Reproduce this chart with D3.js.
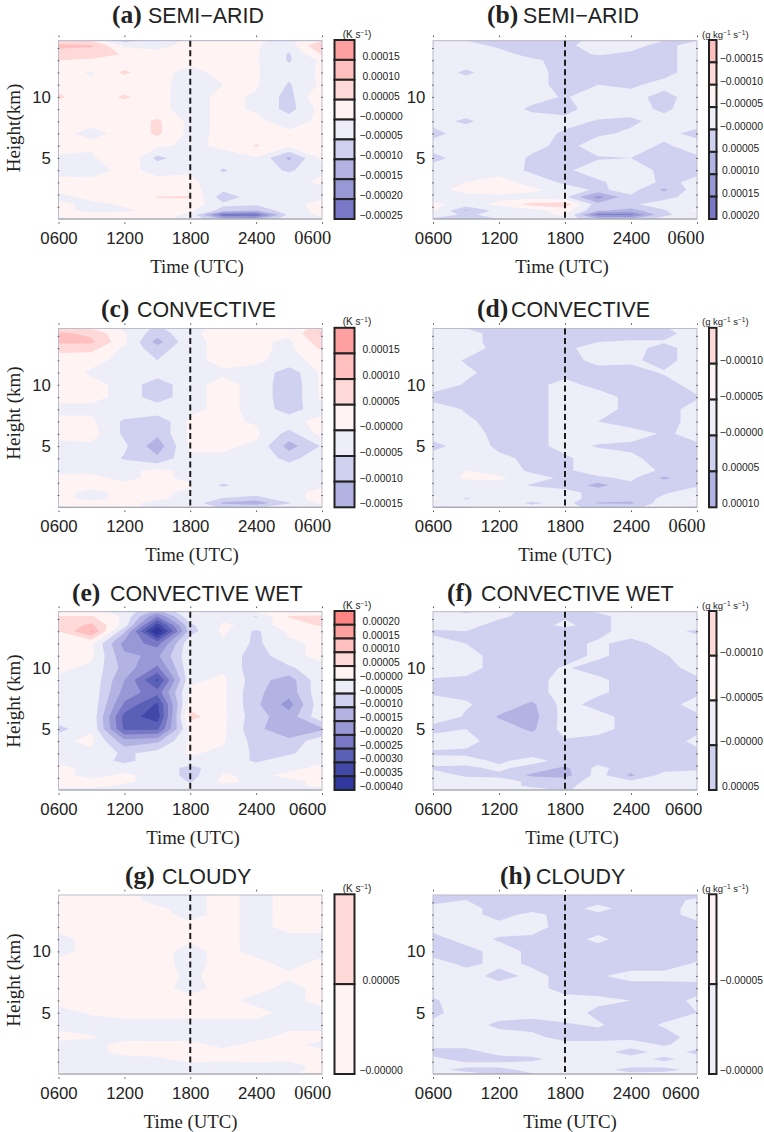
<!DOCTYPE html>
<html>
<head>
<meta charset="utf-8">
<title>Heating and moistening tendencies</title>
<script src="https://cdn.jsdelivr.net/npm/d3@7"></script>
<style>
  html, body { margin: 0; padding: 0; background: #fff; }
  svg { display: block; }
  .serif { font-family: "Liberation Serif", serif; fill: #222; }
  .sans { font-family: "Liberation Sans", sans-serif; fill: #222; }
</style>
</head>
<body>
<div id="chart"></div>
<script>
/* ── Data ─────────────────────────────────────────────────────────── */
// all tendencies in 1e-5 (K/s or g/kg/s), one inner list per time step, top level first
const heightLevels = [14.6, 14.2, 13.5, 13, 12, 11, 10, 9, 8, 7, 6, 5, 4, 3, 2.4, 1.8, 1.2, 0.7, 0.35, 0];
const timeHours = [0, 3, 6, 9, 12, 15, 18, 21, 24];
const timeTicks = [0, 6, 12, 18];
const timeTickLabels = ["0600", "1200", "1800", "2400"];
const heightLabels = [5, 10];
const heightTicks = [1, 2, 3, 4, 5, 6, 7, 8, 9, 10, 11, 12, 13, 14];

const semiAridHeat = [
  [8, 11, 8, 5, 2, 3, 6, 2, 1, 1, 5.5, -2, -1, 1, 1, -1, 1, 1, 1, -1],
  [5, 10.5, 8, 4, -0.5, 1, 1, 1, 1, -1, 1, -1, -1.5, 1, 1, 1, -1, -1, 1, 1],
  [-7, -1, 4.5, 1, 6, 1, 6, 1, 1, 1, 1, 5.2, 1, 1, 1, 1, 0.5, -0.5, 1, 1],
  [-1, -1, 1, 1, 1, 1, 1, 1, 6, 6, 1, -6.5, -1, 1, 1, 5.3, 3, 1, 1, 1],
  [0.5, 1, 1, 1, -1, -1.5, -1.5, -1.5, -1.5, -1.5, -1, -1.5, -0.5, 1, 2, 5.5, 3, 1, -0.5, -1],
  [1, 5, 1, 1, 1, 0, 1, 1, 1, 1, 1, -2, -5.5, -3, -4, -8, -4, -7, -24, -11],
  [0.5, 0.5, 0.5, 0.5, 0.5, 0.5, -0.5, -0.5, 1, 1, 5.5, -0.5, -1.5, -1, -1, -2, -4, -10, -24, -12],
  [-1, -3, -5.5, -5.5, -3.5, -5.5, -7, -7, -2, 1, 1, -11, -6, -1, -1, -1, -1, -1.5, -3.5, -1],
  [5, 11, 5.5, 1, 1, 1, 5.5, 2, 1, 1, 5, 1, -0.5, 0.5, -0.5, -0.5, 1, 1, 1, -0.5]
];
const semiAridMoist = [
  [2, 2, 2, 2, 2, 2, 2, 2, 3, 7, 2, 7, 2, 2, 2, 2, -1, -1, 2, 6],
  [5, 3, 3, 2, 6, 2, 2, 2, 6, 2, 2, 2, 2, 0, -2, 2, 2, 10.5, 6, 6],
  [7, 6, 3, 2, 2, 2, 2, 2, 2, 2, 2, 1, 2, -2, -2, 1, -1, 3, 3, 5],
  [7, 7, 7, 4, 3, 3, 3, 6, 2, 2, 3, 6, 6, 2, -1, 2, -7, 2, 2, 3],
  [7, 6, 7, 7, 7, 7, 5.5, 7, 3, 6, 7, 6, 6, 6, 2, 4, -8, -2, -1, 2],
  [3, 3, 4.5, 7, 7, 5, 2, 2, 5.5, 6, 2, 5.5, 2, 6, 6, 17, 8, 9, 21, 9],
  [2, 3, 6, 7, 7, 6, 3, 3, 6, 4, 2, 5, 1, 2, 3, 6, 6, 12, 21, 10],
  [5, 7, 7, 7, 7, 3, 7, 6, 3, 3, 6, 7, 7, 6, 11, 7, 2, 5.5, 6, 3],
  [5, 2, 2, 2, 2, 2, 2, 2, 2, 7, 2, 6, 6, 4, 2, 2, 2, -1, 2, 5]
];
const convectiveHeat = [
  [7, 11, 11, 7, 2, 2, 2, 1, -1, 1, 1, -1, -1, -1, 1, 1, 1, 1, 1, -1],
  [5, 9, 11, 7, 1, -0.5, 1, 1, -1, 1, 2, -1, -1, -1, 1, 1, -1, -1, 1, 1],
  [-1, 0.5, 1, -1, -1, -1, -1, -1, -1, -6, -6, -4, -5.5, -1, -1, 1, 1, 1, 1, 1],
  [-6, -8, -12, -8, -5, -2, -8.5, -8.5, -1, -9, -9, -13, -9, 1, 1, 1, 1, 0.5, -1, -1],
  [-1, -1, -1, -1, -1, -1, -1, -1, -1, 1, 1, 1, -1, -1, -1, 0.5, -1, -1, -1, -1],
  [1, 2, 1, 1, 1, -0.5, 1, 1, 1, 1, 1, 1, -1, -1, -1, -6, -1, -5.5, -11, -6],
  [1, 1, 1, 1, 0.5, -1, -1, -1, -1, -0.5, 1, -1, -1, -1, -1, -1, -2, -8, -13, -6],
  [1, 1, -1, -1, -1, -8, -9, -9, -8, -1, -7, -12, -7, -1, -1, -1, -1, -1, -5.5, -1],
  [8, 11, 8, 6, 1, 1, 1, 1, -1, 1, 2, -4.5, -1, -1, -1, -0.5, 1, 1, 1, -1]
];
const convectiveMoist = [
  [2, 2, 2, 2, 2, 2, 2, 7, 2, 2, 2, 7, 2, 2, 2, 2, 1, -1, 2, 6],
  [5, 3, 3, 2, 5.5, 4, 5.5, 7, 5.5, 4, 2, 2, 2, 0, -0.5, 2, 2, 5.5, 3, 5.5],
  [7, 7, 7, 7, 7, 7, 7, 7, 7, 7, 7, 6, 4, 2, -1, 2, 2, 2, 2, 4],
  [7, 7, 7, 7, 7, 7, 7, 7, 7, 7, 7, 7, 6, 6, 3, 5.5, 2, 2, 6, 3],
  [7, 7, 5.5, 6, 7, 7, 3, 3, 3, 3, 3, 3, 6, 6, 6, 6, 4, 3, 3, 4],
  [7, 6, 5, 3, 3.5, 7, 7, 2, 2, 5, 2, 5.5, 2, 2, 6, 12, 6, 7, 10.5, 6],
  [5.5, 7, 4.5, 3, 4, 7, 7, 7, 7, 7, 3, 6, 4, 2, 4, 6, 6, 8, 11, 6],
  [5.5, 7, 4.5, 7, 7, 4.5, 7, 7, 7, 7, 5.5, 6, 7, 6, 11, 6, 5.5, 4, 2, 3],
  [2, 2, 2, 2, 2, 2, 3, 5.5, 3, 3, 4, 5.5, 6, 6, 6, 5.5, 3, -1, 2, 6]
];
const wetHeat = [
  [0.5, 5.5, 7, 5, 1, 1, 1, -1, -1, -1, -1, -7, -1, -1, -1, 1, 1, 1, 1, -1],
  [1, 5.5, 11, 15.5, 1, 1, -1, -1, -1, -1, -1, -0.5, 1, -1, -1, -1, -1, 1, 1, -1],
  [-1, -1, -2, -9, -17, -14, -12, -15, -17, -21, -27, -26, -13, -6, -7, -1, 0.5, 0.5, -0.5, -1],
  [-12, -20, -33, -41, -22, -16, -21, -31, -23, -31, -33, -26, -11, -3, -1, -1, -1, -1, -1, -1],
  [1, -1, -6, -7, -1, -1, -1, -1, 1, 3, 7, 1, 1, 0.5, -1, -7, -7, -5.5, -1, -1],
  [-1, -1, 0.5, 1, -1, -1, -1, 1, 1, 1, 1, 1, 0.5, -1, -1, -1, 0.5, 1, -1, -1],
  [0.5, -5.5, -1, -6, -6, -8, -8, -8, -9, -9, -8, -9, -7, -6, -6, -2, -1, -1, -1, -1],
  [1, 5.5, 1, 1, -1, -1, -6, -12.5, -13, -17, -13, -13, -9, -6, -1.5, -1, 1, -1, -1, -1],
  [1, 6, 6, 1, 1, 1, -1, -1, -1, -1, -1, -11, -1, -1, -1, 1, 1, 1, 1, -1]
];
const wetMoist = [
  [2, 2, 2, 6, 3, 2, 2, 5.5, 6, 2, 2, 7, 2, 6, 2, 6, 2, 2, 2, 2],
  [6, 3, 3, 5, 5, 3, 3, 6, 6, 4.5, 5.5, 5, 3.5, 6, 3, 6, 6, 2, 2, 2],
  [3, 4, 7, 7, 7, 7, 7, 7, 7, 7, 10.5, 7, 7, 5, 6, 4, 6, 3, 3, 3],
  [7, 7, 7, 7, 7, 7, 7, 7, 7, 11, 12, 11, 7, 7, 3, 7, 11, 6, 6, 3],
  [7, 5.5, 4, 7, 7, 7, 4.5, 3, 3, 3, 3, 3, 5.5, 7, 7, 11, 12, 7, 6, 5.5],
  [4.5, 7, 7, 7, 4, 4, 7, 4, 4, 7, 3, 3, 7, 7, 7, 3.5, 3, 3, 3, 3],
  [2, 2, 2, 2, 7, 7, 7, 7, 7, 7, 7, 7, 7, 7, 7, 8, 11, 4, 3, 5.5],
  [2, 2, 2, 3, 3, 5.5, 7, 7, 7, 7, 7, 7, 7, 7, 7, 7, 3, 3, 3, 3],
  [2, 2, 2, 6, 2, 2, 3, 6, 6, 3, 6, 6, 4, 6, 5.5, 6, 3, 3, 3, 3]
];
const cloudyHeat = [
  [1, 1, 1, 1, 1, -1, -1, 1, 1, 1, 1, -1, -1, 1, -1, -1, -1, -1, -1, 1],
  [1, 1, 1, 1, 1, 1, 1, 1, 1, 1, 1, 0.3, -1, 0.2, -1, -1, -1, -1, -1, -1],
  [1, 1, 1, 1, 1, 1, 1, 1, 1, 1, 1, 1, -1, -1, 1, 1, -1, -1, -1, -1],
  [-1, -1, 0.5, 1, 1, 1, 1, 1, 1, 1, 1, 1, -1, -1, 1, 1, -0.5, -1, -1, -1],
  [-1, -1, -1, -1, 1, 0.5, -1, -1, -0.5, -1, 1, 1, -1, -1, 1, 1, 1, -1, -1, -1],
  [1, 1, 1, 1, 1, 1, 1, 1, 1, 1, 1, 1, -1, -1, -1, 1, 0.5, -1, -1, 0.5],
  [-1, -1, -1, -1, -1, -1, -1, 1, 1, 1, -1, 1, -1, -1, 1, 1, 1, -1, -1, -0.5],
  [1, 1, 1, 1, 1, -1, -1, -1, 0.5, -1, -1, -1, -1, 1, 1, 1, 0.5, -1, -1, -0.3],
  [1, 1, 1, 1, 1, -1, -1, 1, 1, 1, 1, -1, -1, 1, -1, 0.5, 1, 1, 1, 1]
];
const cloudyMoist = [
  [7, 7, 3, 3, 3, 7, 7, 3, 3, 3, 5.5, 6, 4, 3, 3, 7, 3.5, 3, 3, 3],
  [7, 5, 3, 3, 3, 3, 7, 6, 3, 3, 3, 3, 3, 3, 3, 7, 7, 3, 7, 3],
  [7, 7, 7, 7, 3, 5.5, 3, 4, 6.5, 3, 3, 3, 6, 3, 3, 3, 7, 3, 7, 5.5],
  [7, 7, 7, 3.5, 3, 6, 6, 5.5, 4, 3, 3, 3, 7, 3.5, 3, 3, 6, 3, 3, 5.5],
  [7, 7, 7, 7, 7, 7, 7, 7, 6, 7, 3, 3, 5.5, 7, 3, 3, 3, 3, 3, 3],
  [7, 7, 3.5, 6, 7, 4, 7, 7, 5.5, 7, 4, 6, 4.5, 7, 3, 3, 3, 3, 3, 3],
  [7, 7, 7, 7, 7, 7, 7, 7, 3.5, 7, 5, 7, 7, 6, 3, 7, 3, 3, 7, 3.5],
  [7, 7, 7, 7, 7, 7, 7, 7, 3.5, 7, 7, 7, 4.5, 7, 5.5, 3, 6, 3, 7, 3],
  [7, 4, 3, 3, 7, 7, 7, 4.5, 3, 7, 4, 5, 4, 3, 3, 6, 3, 3, 3, 3]
];

// colour bar labels, top box first (each label is the lower edge of its box)
const semiAridHeatBar = [15, 10, 5, 0, -5, -10, -15, -20, -25];
const semiAridMoistBar = [-15, -10, -5, 0, 5, 10, 15, 20];
const convectiveHeatBar = [15, 10, 5, 0, -5, -10, -15];
const convectiveMoistBar = [-10, -5, 0, 5, 10];
const wetHeatBar = [20, 15, 10, 5, 0, -5, -10, -15, -20, -25, -30, -35, -40];
const wetMoistBar = [-10, -5, 0, 5];
const cloudyHeatBar = [5, 0];
const cloudyMoistBar = [-5, 0];

/* ── Colours ──────────────────────────────────────────────────────── */
const blues = ["#eeeef9", "#d0d0f0", "#b3b3e3", "#9898d6", "#7878c6", "#5a60b6", "#4248a8", "#30389f"];
const pinks = ["#fff4f3", "#ffd8d8", "#ffbfbf", "#ffa0a0", "#ff8585"];

// band [t, t+5): warm = pink for heating, moist = blue for q
function heatColor(t) {
  const k = Math.floor(t / 5);
  return k >= 0 ? pinks[Math.min(k, 4)] : blues[Math.min(-k - 1, 7)];
}
function moistColor(t) {
  const k = Math.floor(t / 5);
  return k >= 0 ? blues[Math.min(k, 7)] : pinks[Math.min(-k - 1, 4)];
}

/* ── Layout ───────────────────────────────────────────────────────── */
const W = 764, H = 1132;
const leftCol = { x0: 58.5, x1: 322, barX: 334.5, barW: 20, tickX: 362.5, minusX: 359.5, unitX: 357 };
const rightCol = { x0: 433, x1: 697, barX: 709, barW: 7.5, tickX: 722, minusX: 719.7, unitX: 725.3 };

const panels = [
  { col: leftCol, top: 40.7, bottom: 219, values: semiAridHeat, bar: semiAridHeatBar, color: heatColor, unit: "K", letter: "(a)", letterX: 112, title: "SEMI\u2212ARID", titleX: 148, base: 23, lastX: 312.7, lastSerif: true, timeX: 197, yLabel: "Height(km)", yLabelY: 128 },
  { col: rightCol, top: 40.7, bottom: 219, values: semiAridMoist, bar: semiAridMoistBar, color: moistColor, unit: "g", letter: "(b)", letterX: 487, title: "SEMI\u2212ARID", titleX: 523, base: 23, lastX: 686, lastSerif: true, timeX: 562 },
  { col: leftCol, top: 328.5, bottom: 507.3, values: convectiveHeat, bar: convectiveHeatBar, color: heatColor, unit: "K", letter: "(c)", letterX: 101, title: "CONVECTIVE", titleX: 137, base: 317, lastX: 312.7, lastSerif: true, timeX: 192, yLabel: "Height (km)", yLabelY: 413 },
  { col: rightCol, top: 328.5, bottom: 507.3, values: convectiveMoist, bar: convectiveMoistBar, color: moistColor, unit: "g", letter: "(d)", letterX: 477, title: "CONVECTIVE", titleX: 511, base: 317, lastX: 687, lastSerif: true, timeX: 565 },
  { col: leftCol, top: 611.7, bottom: 790, values: wetHeat, bar: wetHeatBar, color: heatColor, unit: "K", letter: "(e)", letterX: 72, title: "CONVECTIVE WET", titleX: 110, base: 601, lastX: 307.7, lastSerif: false, timeX: 193, yLabel: "Height (km)", yLabelY: 701 },
  { col: rightCol, top: 611.7, bottom: 790, values: wetMoist, bar: wetMoistBar, color: moistColor, unit: "g", letter: "(f)", letterX: 447, title: "CONVECTIVE WET", titleX: 481, base: 601, lastX: 683.7, lastSerif: false, timeX: 572 },
  { col: leftCol, top: 895, bottom: 1074, values: cloudyHeat, bar: cloudyHeatBar, color: heatColor, unit: "K", letter: "(g)", letterX: 125, title: "CLOUDY", titleX: 162, base: 884, lastX: 312.7, lastSerif: true, timeX: 190.7, yLabel: "Height (km)", yLabelY: 980 },
  { col: rightCol, top: 895, bottom: 1074, values: cloudyMoist, bar: cloudyMoistBar, color: moistColor, unit: "g", letter: "(h)", letterX: 500, title: "CLOUDY", titleX: 536, base: 884, lastX: 681, lastSerif: false, timeX: 570 }
];

const svg = d3.select("#chart").append("svg").attr("width", W).attr("height", H);
const thresholds = d3.range(-45, 30, 5);
const fmtBar = v => (v <= 0 ? "\u2212" : "") + (Math.abs(v) / 1e5).toFixed(5);

panels.forEach((p, idx) => {
  const c = p.col;
  const x = d3.scaleLinear().domain([0, 24]).range([c.x0, c.x1]);
  const y = d3.scaleLinear().domain([0, 14.6]).range([p.bottom, p.top]);
  const g = svg.append("g");

  // grid index -> pixel, levels are not evenly spaced
  const colPx = d3.scaleLinear().domain(d3.range(timeHours.length)).range(timeHours.map(x));
  const rowPx = d3.scaleLinear().domain(d3.range(heightLevels.length)).range(heightLevels.map(y));

  /* ── Filled contours ──────────────────────────────────────────── */
  const nx = p.values.length, ny = heightLevels.length;
  const flat = [];
  for (let j = 0; j < ny; j++) for (let i = 0; i < nx; i++) flat.push(p.values[i][j]);

  const clipId = "clip-" + idx;
  g.append("clipPath").attr("id", clipId).append("rect")
    .attr("x", c.x0).attr("y", p.top).attr("width", c.x1 - c.x0).attr("height", p.bottom - p.top);

  const path = d3.geoPath(d3.geoTransform({
    point(px, py) { this.stream.point(colPx(px - 0.5), rowPx(py - 0.5)); }
  }));
  const contours = d3.contours().size([nx, ny]).thresholds(thresholds)(flat);

  g.append("g").attr("clip-path", `url(#${clipId})`)
    .selectAll("path").data(contours).join("path")
    .attr("d", path)
    .attr("fill", d => p.color(d.value));

  /* ── Frame and axes ───────────────────────────────────────────── */
  g.append("rect")
    .attr("x", c.x0).attr("y", p.top).attr("width", c.x1 - c.x0).attr("height", p.bottom - p.top)
    .attr("fill", "none").attr("stroke", "#bcbccc").attr("stroke-width", 1);
  g.append("line")
    .attr("x1", c.x0).attr("x2", c.x1).attr("y1", p.bottom).attr("y2", p.bottom)
    .attr("stroke", "#a4a4ac").attr("stroke-width", 1);

  // the little tick dots, they sit off the frame at top and bottom
  const dots = (axis, tx, ty) => {
    const a = g.append("g").attr("transform", `translate(${tx},${ty})`).call(axis);
    a.select(".domain").remove();
    a.selectAll("text").remove();
    a.selectAll("line").attr("stroke", "#555").attr("stroke-width", 1);
  };
  const allTimes = timeTicks.concat([24]);
  dots(d3.axisTop(x).tickValues(allTimes).tickSize(1.6), 0, p.top - 3.6);
  dots(d3.axisBottom(x).tickValues(allTimes).tickSize(1.6), 0, p.bottom + 3.2);
  dots(d3.axisLeft(y).tickValues(heightTicks).tickSize(1.6), c.x0 + 0.8, 0);
  dots(d3.axisRight(y).tickValues(heightTicks).tickSize(1.6), c.x1 - 0.8, 0);

  const xLabels = g.append("g").attr("transform", `translate(0,${p.bottom})`)
    .call(d3.axisBottom(x).tickValues(timeTicks).tickSize(0).tickPadding(0)
      .tickFormat((d, i) => timeTickLabels[i]));
  xLabels.select(".domain").remove();
  xLabels.selectAll("text").attr("class", "sans").attr("font-size", 16.8)
    .attr("dy", null).attr("y", 24.7);

  // the last 0600 was pasted on by hand in the original, slightly off the tick
  g.append("text").attr("class", p.lastSerif ? "serif" : "sans")
    .attr("x", p.lastX).attr("y", p.bottom + 24.7)
    .attr("text-anchor", "middle").attr("font-size", p.lastSerif ? 18.4 : 16.8)
    .text("0600");

  const yLabels = g.append("g").attr("transform", `translate(${c.x0},0)`)
    .call(d3.axisLeft(y).tickValues(heightLabels).tickSize(0).tickPadding(7.6));
  yLabels.select(".domain").remove();
  yLabels.selectAll("text").attr("class", "sans").attr("font-size", 16.8);

  g.append("text").attr("class", "serif")
    .attr("x", p.timeX).attr("y", p.bottom + 53.5)
    .attr("text-anchor", "middle").attr("font-size", 18.8)
    .text("Time (UTC)");

  if (p.yLabel) {
    g.append("text").attr("class", "serif")
      .attr("transform", `translate(20,${p.yLabelY}) rotate(-90)`)
      .attr("text-anchor", "middle").attr("font-size", 19)
      .text(p.yLabel);
  }

  /* ── Dashed 1800 line ─────────────────────────────────────────── */
  g.append("line")
    .attr("x1", x(12)).attr("x2", x(12)).attr("y1", p.top).attr("y2", p.bottom)
    .attr("stroke", "#1c1c1c").attr("stroke-width", 2).attr("stroke-dasharray", "6 3.5");

  /* ── Title ────────────────────────────────────────────────────── */
  g.append("text").attr("class", "serif")
    .attr("x", p.letterX).attr("y", p.base)
    .attr("font-size", 25.5).attr("font-weight", "bold")
    .text(p.letter);
  g.append("text").attr("class", "sans")
    .attr("x", p.titleX).attr("y", p.base)
    .attr("font-size", 21.4)
    .text(p.title);

  /* ── Colour bar ───────────────────────────────────────────────── */
  const band = d3.scaleBand().domain(p.bar).range([p.top - 0.7, p.bottom]);
  const bar = g.append("g");
  bar.selectAll("rect").data(p.bar).join("rect")
    .attr("x", c.barX).attr("width", c.barW)
    .attr("y", d => band(d)).attr("height", band.bandwidth())
    .attr("fill", d => p.color(d))
    .attr("stroke", "#222").attr("stroke-width", 2);
  bar.selectAll("text").data(p.bar).join("text")
    .attr("class", "sans")
    .attr("x", d => d <= 0 ? c.minusX : c.tickX)
    .attr("y", d => band(d) + band.bandwidth())
    .attr("font-size", 10.3)
    .text(fmtBar);

  const fs = p.unit === "K" ? 10 : 9.5;
  const unit = g.append("text").attr("class", "sans")
    .attr("x", c.unitX).attr("y", p.top - 3.2)
    .attr("text-anchor", "middle").attr("font-size", fs);
  const sup = s => unit.append("tspan").attr("dy", -3).attr("font-size", 6.5).text(s);
  const reg = s => unit.append("tspan").attr("dy", 3).attr("font-size", fs).text(s);
  if (p.unit === "K") {
    unit.append("tspan").text("(K s");
    sup("\u22121");
    reg(")");
  } else {
    unit.append("tspan").text("(g kg");
    sup("\u22121");
    reg(" s");
    sup("\u22121");
    reg(")");
  }
});
</script>
</body>
</html>
